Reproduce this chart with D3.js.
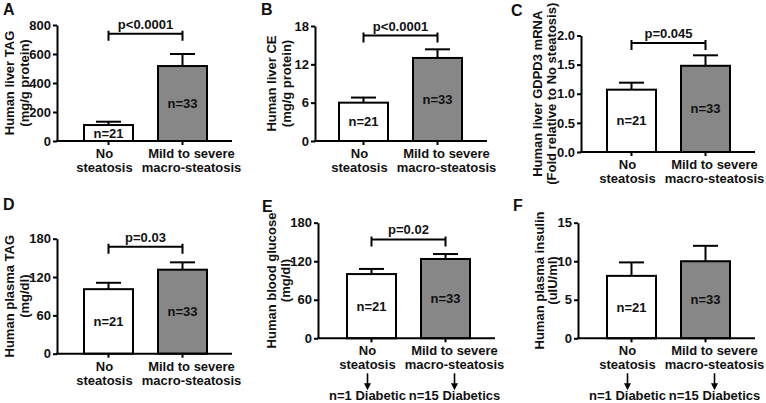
<!DOCTYPE html>
<html><head><meta charset="utf-8">
<script src="https://cdn.jsdelivr.net/npm/d3@7"></script>
<style>
body{margin:0;background:#fff}
text{font-family:"Liberation Sans",Arial,sans-serif;font-weight:bold;fill:#111}
</style>
</head><body>
<svg id="chart" width="766" height="403"></svg>
<script>
// ---------------- data ----------------
const categories = ["No steatosis", "Mild to severe macro-steatosis"];
const categoryLines = [["No", "steatosis"], ["Mild to severe", "macro-steatosis"]];
const panelLetters = ["A", "B", "C", "D", "E", "F"];
const yTitles = [
  ["Human liver TAG", "(mg/g protein)"],
  ["Human liver CE", "(mg/g protein)"],
  ["Human liver GDPD3 mRNA", "(Fold relative to No steatosis)"],
  ["Human plasma TAG", "(mg/dl)"],
  ["Human blood glucose", "(mg/dl)"],
  ["Human plasma insulin", "(uIU/ml)"]
];
const meanNo   = [110, 6.0, 1.07, 101, 100, 8.1];
const meanMild = [517, 13.0, 1.48, 131.5, 123.5, 10.0];
const semNo    = [23, 0.8, 0.12, 10, 8, 1.75];
const semMild  = [83, 1.35, 0.18, 11.5, 7.7, 2.0];
const yMax     = [800, 18, 2.0, 180, 180, 15];
const yTicks = [
  [0, 200, 400, 600, 800],
  [0, 6, 12, 18],
  [0, 0.5, 1.0, 1.5, 2.0],
  [0, 60, 120, 180],
  [0, 60, 120, 180],
  [0, 5, 10, 15]
];
const tickFormats = ["d", "d", ".1f", "d", "d", "d"];
const nLabels = ["n=21", "n=33"];
const pLabels = ["p<0.0001", "p<0.0001", "p=0.045", "p=0.03", "p=0.02", null];
const bracketLevel = [740, 16.5, 1.87, 167.5, 154, null];
const diabeticLabels = [null, null, null, null,
  ["n=1 Diabetic", "n=15 Diabetics"], ["n=1 Diabetic", "n=15 Diabetics"]];

// ---------------- layout ----------------
const layout = [
  {axisX: 57,  barLeft: 84,  yTop: 25,    yBot: 141,   titleX: [9, 24],     letter: [3, 15]},
  {axisX: 315, barLeft: 339, yTop: 26,    yBot: 141,   titleX: [271, 286],  letter: [261, 15]},
  {axisX: 581, barLeft: 607, yTop: 35.5,  yBot: 152,   titleX: [537.5, 551],letter: [511, 16]},
  {axisX: 57,  barLeft: 84,  yTop: 238.7, yBot: 353.7, titleX: [9, 24],     letter: [3, 210]},
  {axisX: 318, barLeft: 347, yTop: 222.7, yBot: 338.3, titleX: [271, 285],  letter: [262, 212]},
  {axisX: 578, barLeft: 607, yTop: 222.7, yBot: 338.3, titleX: [539, 552],  letter: [513, 211]}
];
const labelShift = [-4, 9];
const fills = ["#ffffff", "#878787"];
const FS = 13;

const svg = d3.select("#chart");

panelLetters.forEach((letter, i) => {
  const L = layout[i];
  const g = svg.append("g");
  const x = d3.scaleBand().domain(categories)
    .range([L.barLeft - 25, L.barLeft + 148]).padding(25 / 74);
  const y = d3.scaleLinear().domain([0, yMax[i]]).range([L.yBot, L.yTop]);
  const means = [meanNo[i], meanMild[i]];
  const sems = [semNo[i], semMild[i]];
  const cx = c => x(c) + x.bandwidth() / 2;

  // panel letter
  g.append("text").attr("x", L.letter[0]).attr("y", L.letter[1])
    .attr("font-size", 16).text(letter);

  // y title
  yTitles[i].forEach((t, k) => {
    g.append("text")
      .attr("transform", `translate(${L.titleX[k]},${(L.yTop + L.yBot) / 2}) rotate(-90)`)
      .attr("text-anchor", "middle").attr("dominant-baseline", "central")
      .attr("font-size", FS).text(t);
  });

  // bars
  categories.forEach((c, j) => {
    g.append("rect")
      .attr("x", x(c)).attr("width", x.bandwidth())
      .attr("y", y(means[j])).attr("height", L.yBot - y(means[j]))
      .attr("fill", fills[j]).attr("stroke", "#000").attr("stroke-width", 2);
    // error bar
    const top = y(means[j] + sems[j]);
    g.append("line").attr("x1", cx(c)).attr("x2", cx(c))
      .attr("y1", y(means[j])).attr("y2", top)
      .attr("stroke", "#000").attr("stroke-width", 2);
    g.append("line").attr("x1", cx(c) - 12.5).attr("x2", cx(c) + 12.5)
      .attr("y1", top).attr("y2", top)
      .attr("stroke", "#000").attr("stroke-width", 2);
    // n label
    g.append("text").attr("x", cx(c)).attr("y", (y(means[j]) + L.yBot) / 2)
      .attr("text-anchor", "middle").attr("dominant-baseline", "central")
      .attr("font-size", FS).text(nLabels[j]);
    // category labels
    const lx = cx(c) + labelShift[j];
    categoryLines[j].forEach((t, k) => {
      g.append("text").attr("x", lx).attr("y", L.yBot + 17 + k * 14)
        .attr("text-anchor", "middle").attr("font-size", FS).text(t);
    });
    // diabetic annotations
    if (diabeticLabels[i]) {
      const a0 = L.yBot + 35, a1 = L.yBot + 52;
      g.append("line").attr("x1", lx).attr("x2", lx)
        .attr("y1", a0).attr("y2", a1 - 5)
        .attr("stroke", "#000").attr("stroke-width", 1.6);
      g.append("path")
        .attr("d", `M${lx - 3.5},${a1 - 7}L${lx + 3.5},${a1 - 7}L${lx},${a1}Z`)
        .attr("fill", "#000");
      g.append("text").attr("x", lx).attr("y", L.yBot + 62)
        .attr("text-anchor", "middle").attr("font-size", FS).text(diabeticLabels[i][j]);
    }
  });

  // y axis
  const ya = g.append("g").attr("transform", `translate(${L.axisX},0)`)
    .call(d3.axisLeft(y).tickValues(yTicks[i]).tickSize(4).tickSizeOuter(0)
      .tickPadding(2).tickFormat(d3.format(tickFormats[i])));
  ya.attr("font-family", null).attr("font-size", null);
  ya.selectAll("text").attr("font-size", FS).attr("fill", "#111");
  ya.selectAll("line").attr("stroke", "#000").attr("stroke-width", 2);
  ya.select(".domain").attr("stroke", "#000").attr("stroke-width", 2);

  // x axis
  const xa = g.append("g").attr("transform", `translate(0,${L.yBot})`)
    .call(d3.axisBottom(x).tickSize(4).tickSizeOuter(0).tickFormat(""));
  xa.select(".domain").remove();
  xa.selectAll("line").attr("stroke", "#000").attr("stroke-width", 2);
  g.append("line").attr("x1", L.axisX - 1).attr("x2", x.range()[1])
    .attr("y1", L.yBot).attr("y2", L.yBot)
    .attr("stroke", "#000").attr("stroke-width", 2);

  // significance bracket
  if (pLabels[i]) {
    const by = y(bracketLevel[i]);
    const x0 = cx(categories[0]), x1 = cx(categories[1]);
    g.append("path")
      .attr("d", `M${x0},${by - 3}V${by + 7}M${x0},${by}H${x1}M${x1},${by - 3}V${by + 7}`)
      .attr("fill", "none").attr("stroke", "#000").attr("stroke-width", 2);
    g.append("text").attr("x", (x0 + x1) / 2).attr("y", by - 5)
      .attr("text-anchor", "middle").attr("font-size", FS).text(pLabels[i]);
  }
});
</script>
</body></html>
